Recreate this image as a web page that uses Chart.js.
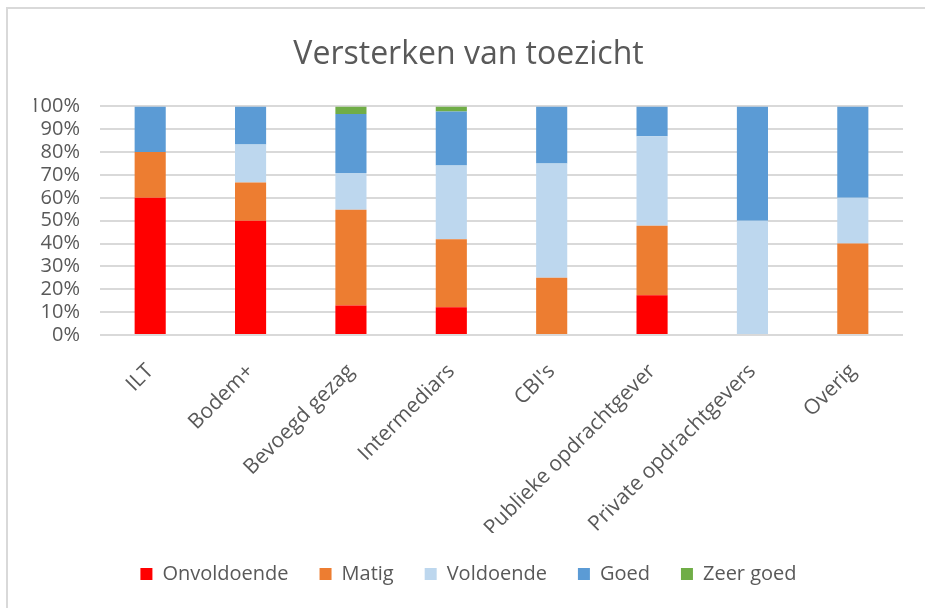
<!DOCTYPE html>
<html>
<head>
<meta charset="utf-8">
<script src="https://cdn.jsdelivr.net/npm/chart.js@4"></script>
<style>
  html, body { margin: 0; padding: 0; background: #fff; }
  #wrap { position: relative; width: 925px; height: 608px; }
  #frame {
    position: absolute; left: 6px; top: 7px; right: -10px; bottom: -10px;
    border-left: 2px solid #d9d9d9; border-top: 2px solid #d9d9d9;
  }
  canvas { position: absolute; left: 0; top: 0; }
</style>
</head>
<body>
<div id="wrap">
  <div id="frame"></div>
  <canvas id="myChart" width="925" height="608"></canvas>
</div>
<script>
const categories = [
  "ILT",
  "Bodem+",
  "Bevoegd gezag",
  "Intermediars",
  "CBI's",
  "Publieke opdrachtgever",
  "Private opdrachtgevers",
  "Overig",
];

// percentages per category
const onvoldoende = [60, 50, 12.9, 12.1, 0, 17.4, 0, 0];
const matig = [20, 16.7, 41.9, 29.8, 25, 30.4, 0, 40];
const voldoende = [0, 16.6, 16.1, 32.3, 50, 39.1, 50, 20];
const goed = [20, 16.7, 25.8, 23.6, 25, 13.1, 50, 40];
const zeerGoed = [0, 0, 3.3, 2.2, 0, 0, 0, 0];

const yTicks = [0, 10, 20, 30, 40, 50, 60, 70, 80, 90, 100];

const textColor = "#595959";
const fontFamily = "'Open Sans', sans-serif";

const data = {
  labels: categories,
  datasets: [
    { label: "Onvoldoende", data: onvoldoende, backgroundColor: "#ff0000" },
    { label: "Matig", data: matig, backgroundColor: "#ed7d31" },
    { label: "Voldoende", data: voldoende, backgroundColor: "#bdd7ee" },
    { label: "Goed", data: goed, backgroundColor: "#5b9bd5" },
    { label: "Zeer goed", data: zeerGoed, backgroundColor: "#70ad47" },
  ],
};

const config = {
  type: "bar",
  data: data,
  options: {
    responsive: false,
    animation: false,
    datasets: {
      bar: {
        categoryPercentage: 1,
        barPercentage: 0.31,
        borderWidth: 0,
      },
    },
    layout: {
      // left padding pushes title and legend centres to the right, like the original
      padding: { left: 34, right: 22, top: 0, bottom: 14 },
    },
    scales: {
      x: {
        stacked: true,
        grid: { display: false },
        border: { display: false },
        ticks: {
          color: textColor,
          font: { family: fontFamily, size: 21 },
          autoSkip: false,
          minRotation: 45,
          maxRotation: 45,
          padding: 16,
        },
        afterFit: (axis) => {
          axis.height = 198;
        },
      },
      y: {
        stacked: true,
        min: 0,
        max: 100,
        afterBuildTicks: (axis) => {
          axis.ticks = yTicks.map((v) => ({ value: v }));
        },
        grid: {
          color: "#d9d9d9",
          lineWidth: 2,
          drawTicks: false,
        },
        border: { display: false },
        ticks: {
          color: textColor,
          font: { family: fontFamily, size: 20 },
          autoSkip: false,
          padding: 20,
          callback: (v) => v + "%",
        },
        afterFit: (axis) => {
          axis.width = 66;
        },
      },
    },
    plugins: {
      title: {
        display: true,
        text: "Versterken van toezicht",
        color: textColor,
        font: { family: fontFamily, size: 32, weight: "normal" },
        padding: { top: 36, bottom: 32 },
      },
      legend: {
        position: "bottom",
        labels: {
          color: textColor,
          font: { family: fontFamily, size: 20 },
          boxWidth: 12,
          boxHeight: 12,
          padding: 31,
        },
      },
      tooltip: { enabled: false },
    },
  },
};

const ctx = document.getElementById("myChart").getContext("2d");
new Chart(ctx, config);
</script>
</body>
</html>
